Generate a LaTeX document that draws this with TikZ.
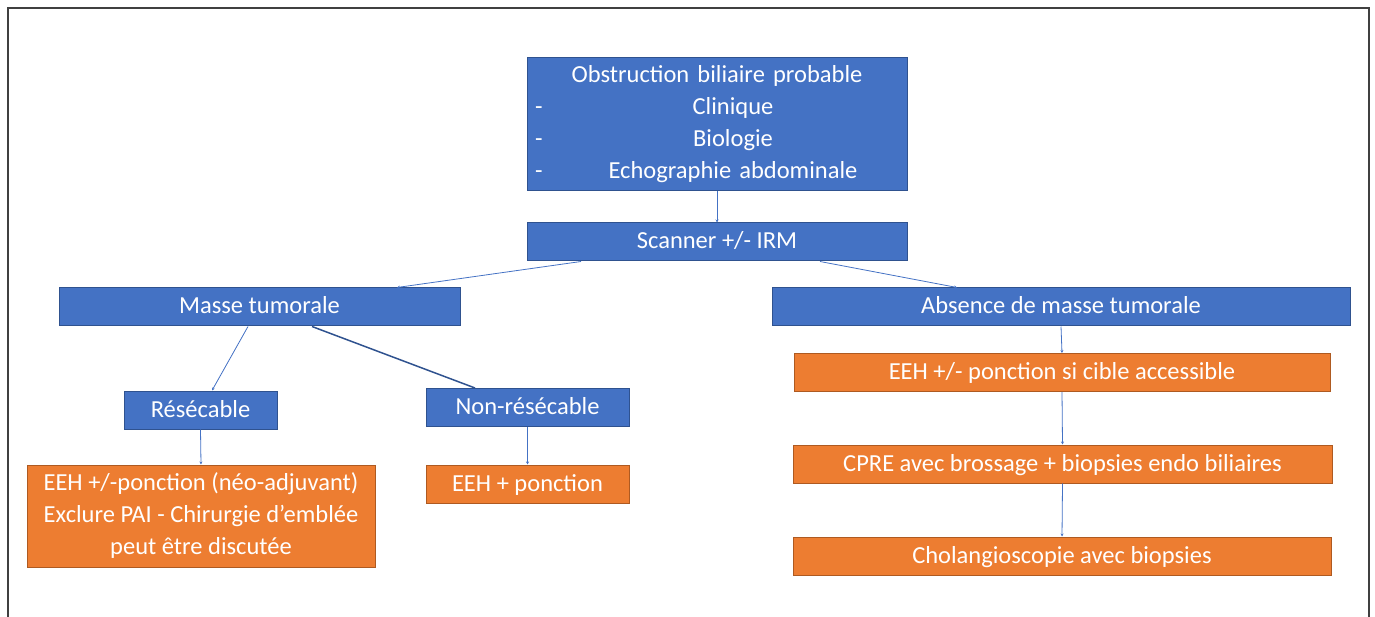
\documentclass[tikz,border=0pt]{standalone}
\usepackage{fontspec}
\setmainfont{Carlito}
\usepackage{tikz}
\usetikzlibrary{arrows.meta, positioning}
\definecolor{boxblue}{RGB}{68, 114, 196}
\definecolor{boxblueline}{RGB}{47, 82, 143}
\definecolor{boxorange}{RGB}{237, 125, 49}
\definecolor{boxorangeline}{RGB}{174, 90, 33}
\definecolor{framegray}{RGB}{64, 64, 64}

% list line: dash on the left, item centred in the rest
\newcommand{\dashline}[1]{\makebox[\hsize]{\makebox[32pt][l]{-}\makebox[\dimexpr\hsize-32pt\relax]{#1}}}

\tikzset{
  flowbox/.style={draw, line width=1pt, text=white, inner sep=0pt,
                  font=\fontsize{24.5}{32}\selectfont},
  bluebox/.style={flowbox, fill=boxblue, draw=boxblueline},
  orangebox/.style={flowbox, fill=boxorange, draw=boxorangeline},
  oneline/.style={text height=19pt, text depth=5pt, minimum height=38pt},
  link/.style={draw=boxblue, line width=0.8pt, -{Stealth[length=3pt, width=3pt]}},
  boldlink/.style={draw=boxblueline, line width=1.5pt},
}

\begin{document}
\begin{tikzpicture}[x=1pt, y=-1pt]
  \useasboundingbox (0,0) rectangle (1375,617);
  \draw[framegray, line width=1.5pt] (8,617) -- (8,8) -- (1369,8) -- (1369,617);

  % top of the tree
  \node[bluebox, minimum width=380pt, minimum height=133pt, text width=364pt, align=center] (obs) at (717,124.5) {
    Obstruction biliaire probable\\
    \dashline{Clinique}\\
    \dashline{Biologie}\\
    \dashline{Echographie abdominale}
  };
  \node[bluebox, oneline, minimum width=380pt] (scan) at (717,242) {Scanner +/- IRM};

  % left branch
  \node[bluebox, oneline, minimum width=401pt] (masse) at (259.5,307) {Masse tumorale};
  \node[bluebox, oneline, minimum width=153pt] (resec) at (200.5,410) {Résécable};
  \node[bluebox, oneline, minimum width=203pt] (nonres) at (527.5,407.5) {Non-résécable};
  \node[orangebox, minimum width=348pt, minimum height=102pt, align=center] (eehres) at (201,516) {
    EEH +/-ponction (néo-adjuvant)\\
    Exclure PAI - Chirurgie d’emblée\\
    peut être discutée
  };
  \node[orangebox, oneline, minimum width=203pt] (eehnon) at (527.5,484) {EEH + ponction};

  % right branch
  \node[bluebox, oneline, minimum width=578pt] (absence) at (1061,307) {Absence de masse tumorale};
  \node[orangebox, oneline, minimum width=536pt] (eehsi) at (1062,372.5) {EEH +/- ponction si cible accessible};
  \node[orangebox, oneline, minimum width=539pt] (cpre) at (1062.5,464) {CPRE avec brossage + biopsies endo biliaires};
  \node[orangebox, oneline, minimum width=538pt] (chol) at (1062,556) {Cholangioscopie avec biopsies};

  % connectors
  \draw[link] (obs.south) -- (scan.north);
  \draw[link] ([xshift=-136pt]scan.south) -- ([xshift=137.5pt]masse.north);
  \draw[link] ([xshift=103pt]scan.south) -- ([xshift=-104pt]absence.north);
  \draw[link] ([xshift=-11.5pt]masse.south) -- ([xshift=11.5pt]resec.north);
  \draw[boldlink] ([xshift=52.5pt]masse.south) -- ([xshift=-52.5pt]nonres.north);
  \draw[link] (resec.south) -- (eehres.north);
  \draw[link] (nonres.south) -- (eehnon.north);
  \draw[link] (absence.south) -- (eehsi.north);
  \draw[link] (eehsi.south) -- (cpre.north);
  \draw[link] (cpre.south) -- (chol.north);
\end{tikzpicture}
\end{document}
